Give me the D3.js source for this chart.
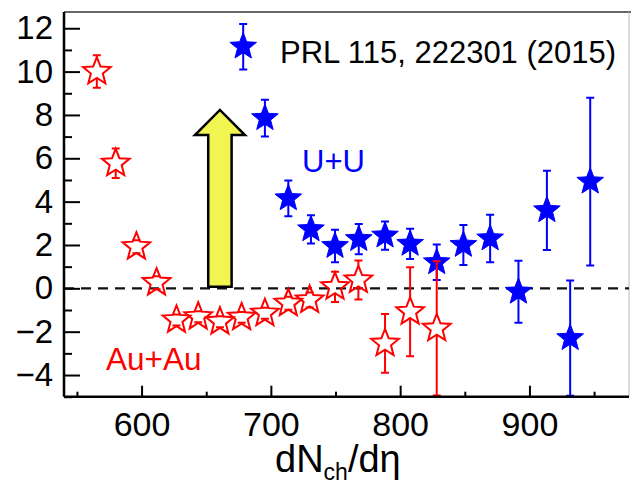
<!DOCTYPE html>
<html>
<head>
<meta charset="utf-8">
<script src="https://cdn.jsdelivr.net/npm/d3@7"></script>
<style>
  html, body { margin: 0; padding: 0; background: #fff; }
  svg { display: block; font-family: "Liberation Sans", Arial, Helvetica, sans-serif; }
</style>
</head>
<body>
<svg id="chart" width="631" height="485"></svg>
<script>
// ---- data ----
const auauX   = [565.4, 580, 596, 611.6, 627, 643.8, 660.6, 677.4, 695.4, 713.5, 730, 749.6, 767.7, 788.3, 807.7, 828.3];
const auauY   = [10.0, 5.77, 1.92, 0.26, -1.46, -1.31, -1.54, -1.34, -1.15, -0.69, -0.54, 0.07, 0.38, -2.54, -1.08, -1.85];
const auauErr = [0.75, 0.68, 0.3, 0.3, 0.25, 0.25, 0.25, 0.25, 0.25, 0.3, 0.35, 0.7, 0.9, 1.36, 2.05, 3.1];

const uuX   = [678.6, 695.4, 713.5, 731, 749.6, 768, 788.3, 807.7, 828.3, 848.9, 869.6, 891.5, 913.5, 931.5, 947];
const uuY   = [11.15, 7.85, 4.15, 2.72, 1.95, 2.27, 2.43, 2.05, 1.2, 2.0, 2.3, -0.16, 3.6, -2.3, 4.92];
const uuErr = [1.05, 0.85, 0.82, 0.65, 0.75, 0.7, 0.65, 0.7, 0.82, 0.92, 1.1, 1.43, 1.83, 2.66, 3.87];

const xTicks = [600, 700, 800, 900];
const xMinorTicks = [550, 650, 750, 850, 950];
const yTicks = [-4, -2, 0, 2, 4, 6, 8, 10, 12];
const yMinorTicks = [-5, -3, -1, 1, 3, 5, 7, 9, 11];

const xDomain = [540, 977];
const yDomain = [-5, 12.75];

const legendText = "PRL 115, 222301 (2015)";
const labelUU = "U+U";
const labelAuAu = "Au+Au";
// annotation arrow (data coords)
const arrowX = 660.6, arrowBase = 0.07, arrowHeadBase = 7.07, arrowTip = 8.23;

// ---- layout ----
const L = 64, R = 629, T = 12, B = 396.7;
const svg = d3.select("#chart");
const x = d3.scaleLinear().domain(xDomain).range([L, R]);
const y = d3.scaleLinear().domain(yDomain).range([B, T]);

const RED = "#ff0000", BLUE = "#0000ff";

svg.append("defs").append("clipPath").attr("id", "plotclip")
  .append("rect").attr("x", L).attr("y", T).attr("width", R - L).attr("height", B - T);

// frame: top and right (grey)
svg.append("line").attr("x1", L).attr("x2", R + 2).attr("y1", T).attr("y2", T)
  .attr("stroke", "#666").attr("stroke-width", 2);
svg.append("line").attr("x1", R).attr("x2", R).attr("y1", T).attr("y2", B)
  .attr("stroke", "#bbb").attr("stroke-width", 1);

// dashed zero line
svg.append("line").attr("x1", L).attr("x2", R).attr("y1", y(0)).attr("y2", y(0))
  .attr("stroke", "#111").attr("stroke-width", 2.2).attr("stroke-dasharray", "10,7");

// arrow
{
  const cx = x(arrowX), hw = 11.7, hh = 25;
  const pts = [
    [cx - hw, y(arrowBase)], [cx - hw, y(arrowHeadBase)], [cx - hh, y(arrowHeadBase)],
    [cx, y(arrowTip)], [cx + hh, y(arrowHeadBase)], [cx + hw, y(arrowHeadBase)],
    [cx + hw, y(arrowBase)]
  ];
  svg.append("path").attr("d", d3.line()(pts) + "Z")
    .attr("fill", "#f0f552").attr("stroke", "#000").attr("stroke-width", 2.5)
    .attr("stroke-linejoin", "miter");
}

function starPath(cx, cy, Ro, Ri) {
  const p = [];
  for (let i = 0; i < 10; i++) {
    const a = -Math.PI / 2 + i * Math.PI / 5;
    const r = i % 2 === 0 ? Ro : Ri;
    p.push([cx + r * Math.cos(a), cy + r * Math.sin(a)]);
  }
  return d3.line()(p) + "Z";
}

const plot = svg.append("g").attr("clip-path", "url(#plotclip)");

// U+U error bars and markers
const uuData = uuX.map((v, i) => ({ x: v, y: uuY[i], e: uuErr[i] }));
const gU = plot.append("g").attr("stroke", BLUE).attr("stroke-width", 2);
uuData.forEach(d => {
  const cx = x(d.x), yt = y(d.y + d.e), yb = y(d.y - d.e);
  gU.append("line").attr("x1", cx).attr("x2", cx).attr("y1", yt).attr("y2", yb);
  gU.append("line").attr("x1", cx - 4).attr("x2", cx + 4).attr("y1", yt).attr("y2", yt);
  gU.append("line").attr("x1", cx - 4).attr("x2", cx + 4).attr("y1", yb).attr("y2", yb);
});
plot.append("g").selectAll("path").data(uuData).join("path")
  .attr("d", d => starPath(x(d.x), y(d.y), 14, 6))
  .attr("fill", BLUE).attr("stroke", BLUE).attr("stroke-width", 1);

// Au+Au error bars and open markers
const auData = auauX.map((v, i) => ({ x: v, y: auauY[i], e: auauErr[i] }));
const gA = plot.append("g").attr("stroke", RED).attr("stroke-width", 2);
const Ro = 14.5, Ri = 6.3;
auData.forEach(d => {
  const cx = x(d.x), cy = y(d.y), yt = y(d.y + d.e), yb = y(d.y - d.e);
  if (yt < cy - Ro) gA.append("line").attr("x1", cx).attr("x2", cx).attr("y1", yt).attr("y2", cy - Ro);
  if (yb > cy + Ri) gA.append("line").attr("x1", cx).attr("x2", cx).attr("y1", cy + Ri).attr("y2", yb);
  gA.append("line").attr("x1", cx - 4).attr("x2", cx + 4).attr("y1", yt).attr("y2", yt);
  gA.append("line").attr("x1", cx - 4).attr("x2", cx + 4).attr("y1", yb).attr("y2", yb);
});
plot.append("g").selectAll("path").data(auData).join("path")
  .attr("d", d => starPath(x(d.x), y(d.y), Ro, Ri))
  .attr("fill", "none").attr("stroke", RED).attr("stroke-width", 2).attr("stroke-linejoin", "miter");

// axes
const xAxis = svg.append("g").attr("transform", `translate(0,${B})`)
  .call(d3.axisBottom(x).tickValues(xTicks).tickSize(-11).tickPadding(15).tickFormat(d3.format("d")));
svg.append("g").attr("transform", `translate(0,${B})`)
  .call(d3.axisBottom(x).tickValues(xMinorTicks).tickSize(-5).tickFormat(""))
  .call(g => g.select(".domain").remove());
const yAxis = svg.append("g").attr("transform", `translate(${L},0)`)
  .call(d3.axisLeft(y).tickValues(yTicks).tickSize(-16).tickPadding(11)
    .tickFormat(d => d < 0 ? "\u2212" + Math.abs(d) : String(d)));
svg.append("g").attr("transform", `translate(${L},0)`)
  .call(d3.axisLeft(y).tickValues(yMinorTicks).tickSize(-8).tickFormat(""))
  .call(g => g.select(".domain").remove());

svg.selectAll(".domain").attr("stroke", "#000").attr("stroke-width", 2.5);
svg.selectAll(".tick line").attr("stroke", "#000").attr("stroke-width", 2);
xAxis.selectAll(".domain").attr("d", `M${L},0H${R}`);
yAxis.selectAll(".domain").attr("d", `M0,${B}V${T}`);
xAxis.selectAll(".tick text").attr("font-size", 34).attr("fill", "#000")
  .attr("font-family", "'Liberation Sans', Arial, sans-serif");
yAxis.selectAll(".tick text").attr("font-size", 33).attr("fill", "#000")
  .attr("font-family", "'Liberation Sans', Arial, sans-serif");

// x-axis title
const xt = svg.append("text").attr("x", 275).attr("y", 471.5).attr("font-size", 38).attr("fill", "#000");
xt.append("tspan").text("dN");
xt.append("tspan").attr("font-size", 23).attr("dy", 8).text("ch");
xt.append("tspan").attr("dy", -8).text("/d\u03b7");

// legend text
svg.append("text").attr("x", 280).attr("y", 63).attr("font-size", 31).attr("fill", "#000").text(legendText);
svg.append("text").attr("x", 302).attr("y", 171.5).attr("font-size", 31).attr("fill", BLUE).text(labelUU);
svg.append("text").attr("x", 106).attr("y", 370).attr("font-size", 31.5).attr("fill", RED).text(labelAuAu);
</script>
</body>
</html>
